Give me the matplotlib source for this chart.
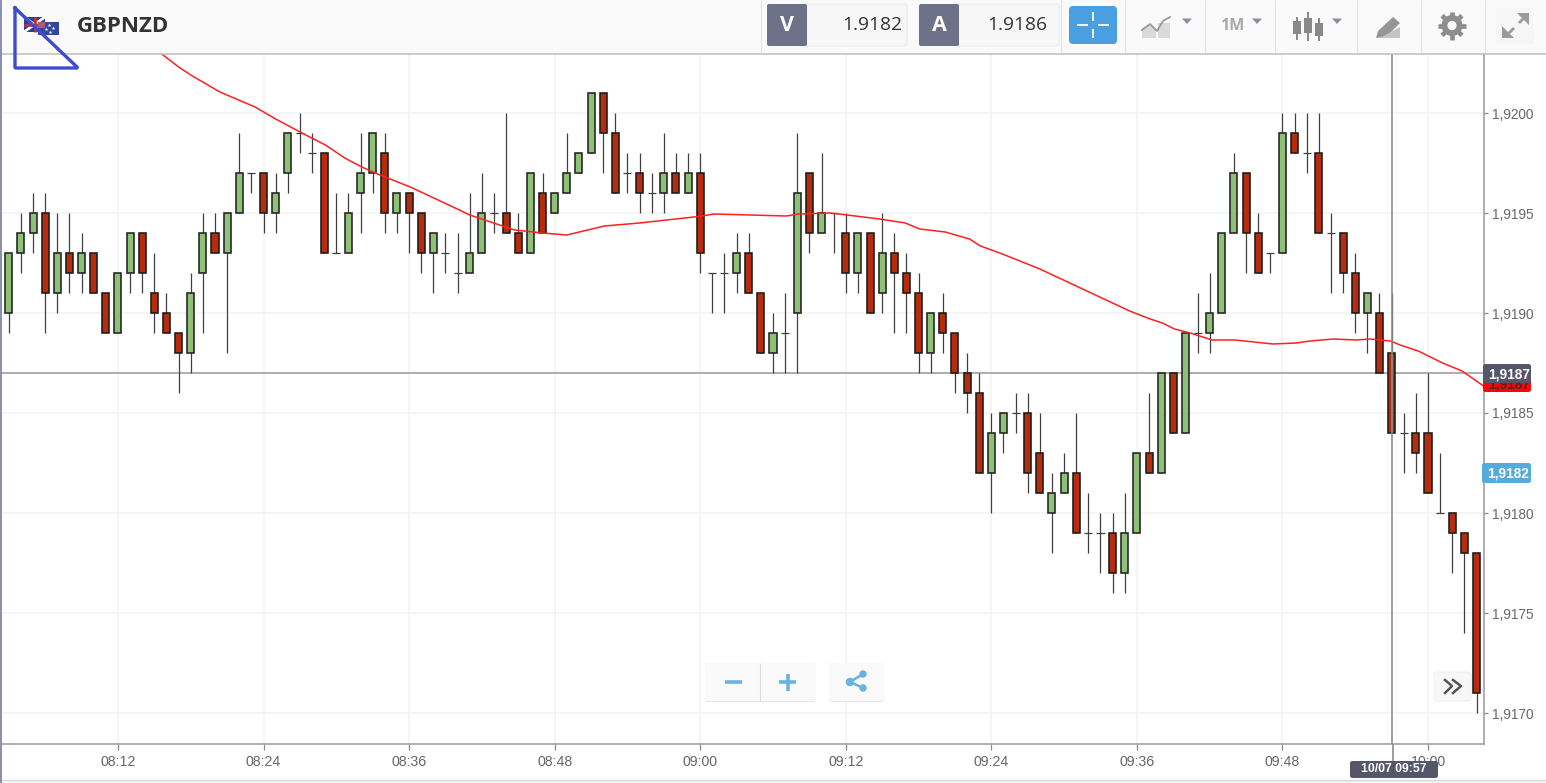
#!/bin/python3

import numpy as np
import matplotlib
matplotlib.use('Agg')
import matplotlib.pyplot as plt
from matplotlib.patches import Rectangle, FancyBboxPatch, Polygon, Circle

#########################
######### DATA (pips above 1.9100, one candle per minute from 08:03)
#########################

open_p = [90,93,94,95,91,93,92,93,91,89, 92,94,91,90,89,88,92,94,93,95,
          97,97,95,97,99,98,98,93,93,96, 97,98,95,96,95,93,93,92,92,93,
          95,95,94,93,96,95,96,97,98,101, 99,97,97,96,96,97,96,97,92,92,
          92,93,91,88,89,90,97,94,95,94, 92,94,91,93,92,91,88,90,89,87,
          86,82,84,85,85,83,80,81,82,79, 79,79,77,79,83,82,87,84,89,89,
          90,94,97,94,93,93,99,98,98,94, 94,92,90,90,88,84,84,84,80,80,
          79,78]
close_p = [93,94,95,91,93,92,93,91,89,92, 94,92,90,89,88,91,94,93,95,97,
           97,95,96,99,99,98,93,93,95,97, 99,95,96,95,93,94,93,92,93,95,
           95,94,93,97,94,96,97,98,101,99, 96,97,96,96,97,96,97,93,92,92,
           93,91,88,89,89,96,94,95,95,92, 94,90,93,92,91,88,90,89,87,86,
           82,84,85,85,82,81,81,82,79,79, 79,77,79,83,82,87,84,89,89,90,
           94,97,94,92,93,99,98,98,94,94, 92,90,91,87,84,84,83,81,80,79,
           78,71]
high_p = [93,95,96,96,95,95,94,93,91,92, 94,94,93,91,89,92,95,95,95,99,
          97,97,97,99,100,99,98,96,96,99, 99,99,96,96,95,94,94,94,96,97,
          96,100,95,97,97,96,99,98,101,101, 100,98,98,97,99,98,98,98,92,93,
          94,94,91,90,91,99,97,98,95,95, 94,94,95,94,93,92,90,91,89,88,
          87,85,85,86,86,85,82,83,85,81, 80,80,81,83,86,87,87,89,91,92,
          94,98,97,95,93,100,100,100,100,95, 94,93,91,91,91,85,86,87,83,80,
          79,78]
low_p = [89,92,93,89,90,91,91,91,89,89, 91,91,89,89,86,87,89,93,88,95,
         96,94,94,96,98,97,93,93,93,94, 96,94,94,93,92,91,92,91,92,93,
         94,94,93,93,94,95,96,97,98,97, 96,96,95,95,95,96,96,92,90,90,
         91,91,88,87,87,87,93,94,93,91, 91,90,90,89,89,87,87,88,86,85,
         82,80,83,84,81,81,78,81,79,78, 77,76,76,79,82,82,84,84,88,88,
         90,94,92,92,92,93,98,97,94,91, 91,89,88,87,84,82,82,81,80,77,
         74,70]

ma_t = [12.5,14,15,17.4,20.3,22,24,26.1,27.7,29.1,30.6,33.1,36.8,38,41.7,44,46,49.1,52,
        57.2,58.1,61.1,64.1,65.1,67.7,69.1,71.8,73.9,75.1,77.2,79.2,80.1,81.7,85,92.4,
        94.1,95.1,96.1,97.4,99.2,101.1,104.2,106.1,107.3,109.2,111.1,112.2,113.9,114.7,
        116.2,118.2,119.8,121.7]
ma_p = [103,102.3,101.9,101.05,100.3,99.7,99.05,98.4,97.75,97.3,96.9,96.3,95.25,94.9,94.15,
        94,93.9,94.35,94.5,94.85,94.95,94.9,94.85,94.95,95,94.9,94.7,94.5,94.2,94.05,93.7,
        93.35,93,92.2,90.1,89.7,89.5,89.2,89,88.65,88.65,88.45,88.5,88.6,88.7,88.65,88.7,
        88.6,88.4,88.1,87.5,87.1,86.3]

time_ticks = [9, 21, 33, 45, 57, 69, 81, 93, 105, 117]
time_labels = ['08:12','08:24','08:36','08:48','09:00','09:12','09:24','09:36','09:48','10:00']
price_ticks = [1.9170, 1.9175, 1.9180, 1.9185, 1.9190, 1.9195, 1.9200]

crosshair_t = 114
crosshair_p = 1.9187

to_price = lambda a: 1.91 + np.array(a) / 1e4
o, c, h, l = to_price(open_p), to_price(close_p), to_price(high_p), to_price(low_p)
t = np.arange(len(o))

FONT = 'Liberation Sans'
W, H = 1546, 783

#########################
######### MAIN CHART
#########################

fig = plt.figure(figsize=(W/100, H/100), dpi=100, facecolor='white')
# axes box in pixels: x 0-1484, y 54-744
ax = fig.add_axes([0, (H-744)/H, 1484/W, 690/H])
ax.set_xlim((0-8.8)/12.13, (1484-8.8)/12.13)
ax.set_ylim(1.9200-631/20*1e-4, 1.9200+59/20*1e-4)

ax.grid(True, color='#f3f3f3', lw=1.2)
ax.set_axisbelow(True)
for s in ['top', 'left']:
    ax.spines[s].set_visible(False)
ax.spines['right'].set_color('#a8a8a8')
ax.spines['bottom'].set_color('#a8a8a8')
ax.spines['right'].set_linewidth(1.3)
ax.spines['bottom'].set_linewidth(1.3)

ax.set_xticks(time_ticks)
ax.set_xticklabels(time_labels, family=FONT, fontsize=10.2, color='#666666')
ax.yaxis.tick_right()
ax.set_yticks(price_ticks)
ax.set_yticklabels([('%.4f' % p).replace('.', ',') for p in price_ticks],
                   family=FONT, fontsize=9.8, color='#666666')
ax.tick_params(axis='x', length=4.3, width=0.9, color='#888888', pad=3.5)
ax.tick_params(axis='y', length=3, width=0.9, color='#888888', pad=2.5)

ax.axhline(crosshair_p, color='#a0a0a0', lw=1.2, zorder=2)

ax.vlines(t, l, h, color='#404040', lw=0.9, zorder=3)
up = c > o
down = c < o
doji = c == o
ax.bar(t[up], (c-o)[up], bottom=o[up], width=0.58, color='#8cc176',
       edgecolor='#222222', lw=1.15, zorder=4)
ax.bar(t[down], (o-c)[down], bottom=c[down], width=0.58, color='#b82c0c',
       edgecolor='#1a1a1a', lw=1.15, zorder=4)
ax.hlines(o[doji], t[doji]-0.33, t[doji]+0.33, color='#404040', lw=0.9, zorder=3)

ax.plot(ma_t, to_price(ma_p), color='#ff2020', lw=1.1, zorder=5)
ax.axvline(crosshair_t, color='#8c8c8c', lw=1.2, zorder=6)

#########################
######### OVERLAY IN PIXELS (toolbar, tags, buttons)
#########################

ui = fig.add_axes([0, 0, 1, 1])
ui.set_xlim(0, W)
ui.set_ylim(H, 0)
ui.axis('off')
ui.patch.set_alpha(0)


def box(x0, y0, x1, y1, col, ec='none', r=2, lw=0.8, z=2):
    p = FancyBboxPatch((x0, y0), x1-x0, y1-y0, boxstyle='round,pad=0,rounding_size=%g' % r,
                       fc=col, ec=ec, lw=lw, zorder=z, mutation_aspect=1)
    ui.add_patch(p)


def line(xs, ys, col, lw=1.0, z=3):
    ui.plot(xs, ys, color=col, lw=lw, zorder=z, solid_capstyle='butt')


def tri(x, y, col='#8a8f9c'):
    ui.add_patch(Polygon([(x-5, y-2.5), (x+5, y-2.5), (x, y+3)], fc=col, ec='none', zorder=3))


# header
ui.add_patch(Rectangle((0, 0), W, 53, fc='#fafafa', ec='none', zorder=1))
line([0, W], [53.5, 53.5], '#bdbdbd', 1.1)
for xd in [761, 1061, 1125, 1205, 1275, 1357, 1421, 1485]:
    line([xd, xd], [0, 53], '#e2e2e2', 0.8)

# left strip and bottom edge
ui.add_patch(Rectangle((0, 0), 1.6, H, fc='#8d90aa', ec='none', zorder=9))
line([0, W], [779.5, 779.5], '#d8d8d8', 1.0)
ui.add_patch(Rectangle((0, 780), W, 3, fc='#f5f5f5', ec='none', zorder=1))

# flags
ui.add_patch(Rectangle((24, 17), 21, 15, fc='#2a3f8f', ec='none', zorder=3))
line([24, 45], [17, 32], 'white', 2.0, 4)
line([24, 45], [32, 17], 'white', 2.0, 4)
line([34.5, 34.5], [17, 32], '#d22b3a', 2.0, 5)
line([24, 45], [24.5, 24.5], '#d22b3a', 2.0, 5)
ui.add_patch(Rectangle((38, 22), 21, 13, fc='#33479a', ec='none', zorder=4))
for xs, ys in [(49, 25), (53, 28), (46, 29), (50, 32)]:
    ui.plot(xs, ys, '*', color='#e8e8f2', ms=3, mew=0, zorder=5)
ui.add_patch(Rectangle((38, 22), 7, 6, fc='#b05a70', ec='none', zorder=5))

ui.plot([15, 15, 78, 15], [8, 68, 68, 8], color='#3d4ccc', lw=2.4, zorder=8,
        solid_joinstyle='bevel')
ui.text(77, 26, 'GBPNZD', family='Open Sans', weight='bold', fontsize=16,
        color='#333333', va='center', ha='left', zorder=7)

# bid / ask boxes
for x0, lab, val in [(767, 'V', '1.9182'), (919, 'A', '1.9186')]:
    box(x0+38, 4, x0+140, 46, '#f7f7f7', ec='#ececec')
    box(x0, 4, x0+40, 46, '#6d7289')
    ui.text(x0+20, 25.5, lab, family='Open Sans', weight='bold', fontsize=15.5, color='white',
            ha='center', va='center', zorder=4)
    ui.text(x0+135 if lab == 'V' else x0+128, 25.5, val, family='Open Sans', fontsize=13.8,
            color='#333333', ha='right', va='center', zorder=4)

# crosshair button
box(1069, 6, 1117, 44, '#4a9fe0', r=4)
line([1093, 1093], [12, 21], 'white', 1.3)
line([1093, 1093], [29, 38], 'white', 1.3)
line([1077, 1088], [25, 25], 'white', 1.3)
line([1098, 1109], [25, 25], 'white', 1.3)

# line/area icon
ui.add_patch(Polygon([(1142, 38), (1142, 30), (1150, 24), (1156, 30), (1156, 38)], fc='#d9d9d9', ec='none', zorder=3))
ui.add_patch(Rectangle((1158, 23), 12, 15, fc='#d9d9d9', ec='none', zorder=3))
ui.plot([1142, 1150, 1157, 1163, 1170], [30, 24, 31, 21, 17], color='#9a9a9a', lw=1.3, zorder=4)
tri(1187, 21)

ui.text(1232, 26, '1M', family='Open Sans', weight='bold', fontsize=11.5, color='#a8a8a8',
        ha='center', va='center', zorder=4)
tri(1257, 21)

# candle icon
for xc, y0, y1, yt, yb in [(1297, 21, 34, 17, 40), (1308, 18, 33, 12, 41), (1319, 23, 36, 18, 41)]:
    line([xc, xc], [yt, yb], '#888888', 1.4)
    ui.add_patch(Rectangle((xc-4, y0), 8, y1-y0, fc='#888888', ec='none', zorder=4))
tri(1337, 21)

# pencil/draw icon
ui.add_patch(Polygon([(1378, 31), (1393, 17), (1400, 23), (1386, 37), (1376, 38)], fc='#969696', ec='none', zorder=3))
ui.add_patch(Polygon([(1380, 38), (1400, 38), (1400, 27)], fc='#c4c4c4', ec='none', zorder=3))

# gear
ui.add_patch(Circle((1452, 25.5), 10.5, fc='#8e8e8e', ec='none', zorder=3))
for ang in np.arange(0, 360, 45):
    a = np.deg2rad(ang)
    line([1452+9*np.cos(a), 1452+14*np.cos(a)], [25.5+9*np.sin(a), 25.5+14*np.sin(a)], '#8e8e8e', 3.4)
ui.add_patch(Circle((1452, 25.5), 4.6, fc='#fafafa', ec='none', zorder=5))

# expand box
box(1496, 8, 1534, 44, '#f6f6f6', r=1)
line([1507, 1514], [35, 28], '#9a9a9a', 2.0, 4)
line([1519, 1526], [23, 16], '#9a9a9a', 2.0, 4)
ui.add_patch(Polygon([(1517, 13), (1529, 13), (1529, 25)], fc='#9a9a9a', ec='none', zorder=4))
ui.add_patch(Polygon([(1502, 26), (1502, 38), (1514, 38)], fc='#9a9a9a', ec='none', zorder=4))

# zoom buttons
box(705, 663, 816, 702, '#e8e8e8', r=3)
box(705, 663, 816, 701, '#fafafa', r=3)
line([759.5, 759.5], [663, 701], '#dddddd', 0.8, 4)
line([725, 742], [682, 682], '#6ab3df', 2.6, 4)
line([779, 796], [682, 682], '#6ab3df', 2.6, 4)
line([787.5, 787.5], [673.5, 690.5], '#6ab3df', 2.6, 4)
box(829, 663, 884, 702, '#e8e8e8', r=3)
box(829, 663, 884, 701, '#fafafa', r=3)
ui.plot([863, 850, 863], [674, 682, 688], color='#6ab3df', lw=1.8, zorder=4)
ui.add_patch(Circle((850, 682), 4.3, fc='#6ab3df', ec='none', zorder=5))
ui.add_patch(Circle((863, 674), 3.7, fc='#6ab3df', ec='none', zorder=5))
ui.add_patch(Circle((863, 688), 3.7, fc='#6ab3df', ec='none', zorder=5))

# scroll button
box(1434, 672, 1471, 701, '#f8f8f8', ec='#f0f0f0', r=3)
ui.plot([1445, 1452, 1445], [680, 686, 693], color='#555555', lw=1.8, zorder=5)
ui.plot([1453, 1461, 1453], [680, 686, 693], color='#555555', lw=1.8, zorder=5)

# price tags
box(1483, 378, 1531, 392, '#fb0505', r=2.5, z=6)
ui.text(1509, 384.5, '1,9187', family=FONT, weight='bold', fontsize=9.8, color='#5a2030',
        ha='center', va='center', zorder=6)
box(1483, 364, 1531, 383, '#55566a', r=2.5, z=7)
ui.text(1509, 374.5, '1,9187', family=FONT, weight='bold', fontsize=9.8, color='white',
        ha='center', va='center', zorder=7)
box(1482, 463, 1531, 483, '#55acdc', r=2.5, z=7)
ui.text(1508.5, 473.5, '1,9182', family=FONT, weight='bold', fontsize=9.8, color='white',
        ha='center', va='center', zorder=7)

# crosshair time tag
line([1393, 1393], [744, 762], '#8c8c8c', 1.2, 5)
box(1350, 761, 1438, 778, '#55566a', r=2.5, z=7)
ui.text(1394, 769.5, '10/07 09:57', family=FONT, weight='bold', fontsize=8.8, color='white',
        ha='center', va='center', zorder=7)

fig.savefig('out.png', dpi=100)
